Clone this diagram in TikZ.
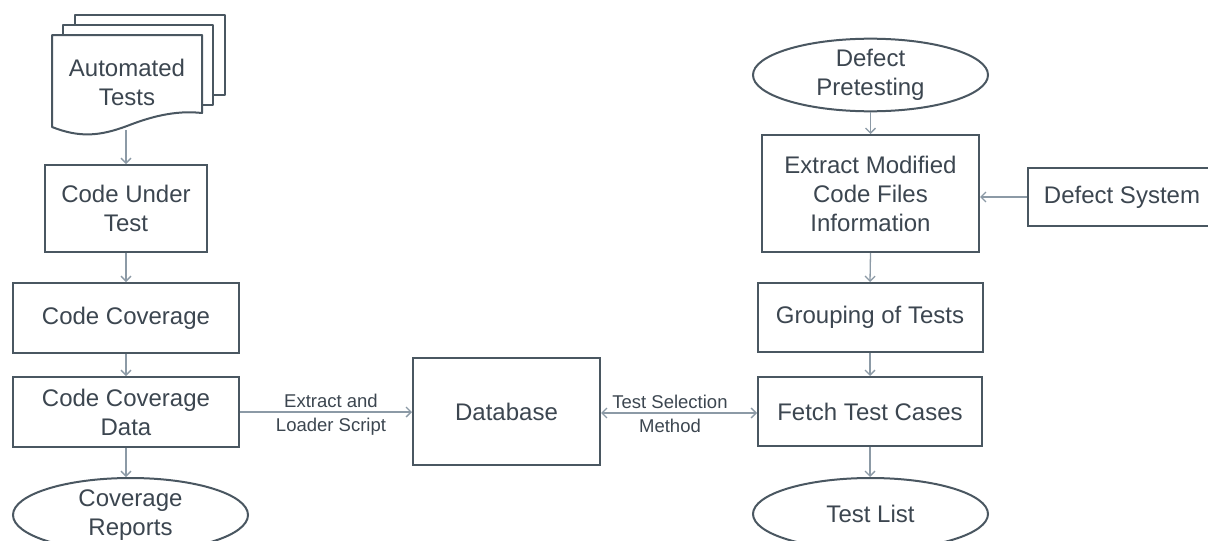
\documentclass[tikz,border=0pt]{standalone}
\usepackage{fontspec}
\setmainfont{Liberation Sans}
\usetikzlibrary{shapes.geometric,arrows.meta,calc}
\definecolor{txt}{HTML}{3C4650}
\definecolor{bord}{HTML}{4A5761}
\definecolor{arr}{HTML}{8C9AA6}
\tikzset{
  box/.style={draw=bord, line width=2pt, fill=white, rectangle, inner sep=0pt, align=center, text=txt, font=\fontsize{24}{29}\selectfont},
  oval/.style={draw=bord, line width=2pt, fill=white, ellipse, inner sep=0pt, align=center, text=txt, font=\fontsize{24}{29}\selectfont},
  conn/.style={draw=arr, line width=1.3pt, -{Straight Barb[length=5pt,width=10pt]}},
  conn2/.style={draw=arr, line width=1.3pt, {Straight Barb[length=5pt,width=10pt]}-{Straight Barb[length=5pt,width=10pt]}},
  lbl/.style={text=txt, align=center, font=\fontsize{18.5}{24}\selectfont, inner sep=0pt},
  doc/.style={draw=bord, line width=2pt, fill=white, line join=round}
}
\begin{document}
\begin{tikzpicture}[x=1pt,y=-1pt]
\useasboundingbox (0,0) rectangle (1208,541);
\clip (0,0) rectangle (1208,541);
\fill[white] (0,0) rectangle (1208,541);
% multi-document
\draw[doc] (75,25) -- (75,15) -- (225,15) -- (225,95) -- (213,95);
\draw[doc] (63,35) -- (63,25) -- (213,25) -- (213,105) -- (202,105);
\draw[doc] (52,35) -- (202,35) -- (202,113)
  .. controls (175,110) and (150,117) .. (127,126)
  .. controls (100,136) and (80,138) .. (52,127) -- cycle;
\node[lbl, font=\fontsize{24}{29}\selectfont] (at) at (127,82) {Automated\\Tests};
\coordinate (atb) at (126,130);
% left column
\node[box, minimum width=162pt, minimum height=87pt] (cut) at (126,208.5) {Code Under\\Test};
\node[box, minimum width=226pt, minimum height=70pt] (cc) at (126,318) {Code Coverage};
\node[box, minimum width=226pt, minimum height=70pt] (ccd) at (126,412) {Code Coverage\\Data};
\node[oval, minimum width=235pt, minimum height=74pt] (cr) at (130.5,515) {Coverage\\Reports};
% database
\node[box, minimum width=187pt, minimum height=107pt] (db) at (506.5,411.5) {Database};
% right column
\node[oval, minimum width=235pt, minimum height=66pt] (dp) at (870.5,75) {Defect\\Pretesting};
\node[box, minimum width=217pt, minimum height=117pt] (emc) at (870.5,193.5) {Extract Modified\\Code Files\\Information};
\node[box, minimum width=188pt, minimum height=58pt] (ds) at (1122,197) {Defect System};
\node[box, minimum width=225pt, minimum height=69pt] (grp) at (870,317.5) {Grouping of Tests};
\node[box, minimum width=224pt, minimum height=69pt] (fetch) at (870,411.5) {Fetch Test Cases};
\node[oval, minimum width=235pt, minimum height=72pt] (tl) at (870.5,514) {Test List};
% connectors
\draw[conn] (atb) -- (cut.north);
\draw[conn] (cut.south) -- (cc.north);
\draw[conn] (cc.south) -- (ccd.north);
\draw[conn] (ccd.south) -- (ccd.south |- cr.north);
\draw[conn] (ccd.east) -- node[lbl, xshift=5pt, yshift=-3pt] {Extract and\\Loader Script} (ccd.east -| db.west);
\draw[conn2] ($(db.east)+(0,1.5)$) -- node[lbl, xshift=-9pt, yshift=-1pt] {Test Selection\\Method} ($(fetch.west)+(0,1.5)$);
\draw[conn] (dp.south) -- (emc.north);
\draw[conn] (ds.west) -- (ds.west -| emc.east);
\draw[conn] (emc.south) -- (grp.north);
\draw[conn] (grp.south) -- (fetch.north);
\draw[conn] (fetch.south) -- (fetch.south |- tl.north);
\end{tikzpicture}
\end{document}
